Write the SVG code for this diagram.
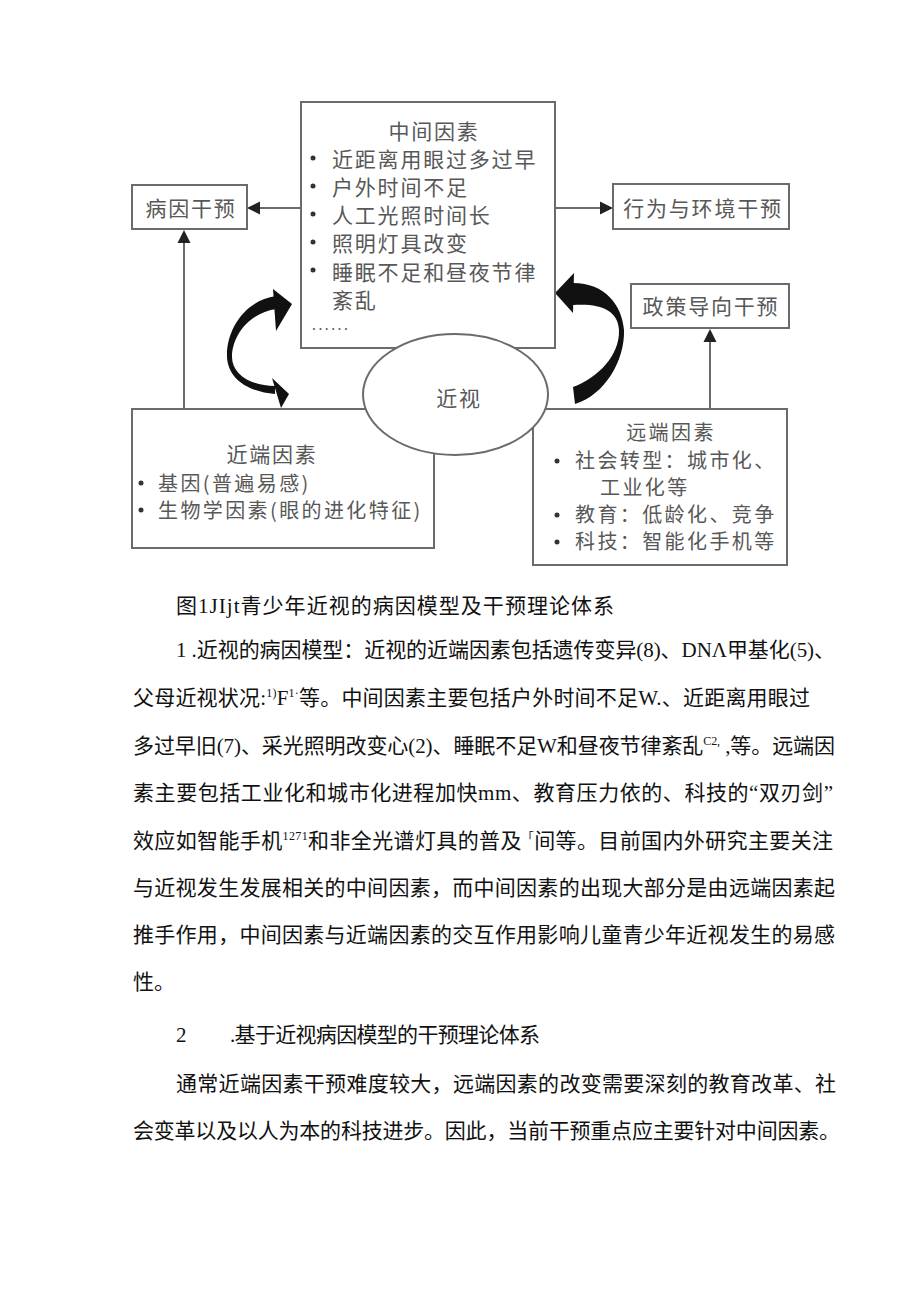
<svg xmlns="http://www.w3.org/2000/svg" width="920" height="1301" viewBox="0 0 920 1301">
<style>
.box{fill:#fff;stroke:#6b6b6b;stroke-width:2}
.dt{font-family:"Noto Sans CJK SC",sans-serif;font-size:21px;fill:#585858;letter-spacing:1.8px}
.st{font-size:20px;letter-spacing:2.4px}
.mid{text-anchor:middle}
.bul{fill:#333}
.ln{stroke:#6b6b6b;stroke-width:2;fill:none}
.ah{fill:#222}
.cv{fill:#111}
.bt{font-family:"Liberation Serif","Noto Sans CJK SC",serif;font-size:21px;fill:#111}
.sup{font-size:12px}
</style>
<rect width="920" height="1301" fill="#fff"/>

<g id="connectors">
  <line class="ln" x1="301" y1="208" x2="256" y2="208"/>
  <polygon class="ah" points="247,208 260,201.5 260,214.5"/>
  <line class="ln" x1="555" y1="208" x2="603" y2="208"/>
  <polygon class="ah" points="613,208 600,201.5 600,214.5"/>
  <line class="ln" x1="184" y1="409" x2="184" y2="240"/>
  <polygon class="ah" points="184,230 177.5,243 190.5,243"/>
  <line class="ln" x1="710" y1="409" x2="710" y2="338"/>
  <polygon class="ah" points="710,329 703.5,342 716.5,342"/>
  <g id="curve-left">
    <path class="cv" d="M276,296 C245,300 226,330 227,357 C228,380 250,392 275,394 L275,386 C252,386 232,375 232,357 C232,335 250,312 277,309 Z"/>
    <polygon class="cv" points="273,289 292,304 276,331"/>
    <polygon class="cv" points="272,378 289,394 281,408"/>
  </g>
  <g id="curve-right">
    <path class="cv" d="M573,283 C605,283 622,305 624,330 C625,360 605,395 575,404 L573,387 C598,378 620,355 619,330 C618,310 600,303 573,305 Z"/>
    <polygon class="cv" points="555,293 574,273 573,313"/>
  </g>
</g>

<g id="node-middle">
  <rect class="box" x="301" y="102" width="254" height="246"/>
  <text class="dt mid" x="434" y="139">中间因素</text>
  <circle class="bul" cx="313" cy="158" r="2.5"/>
  <text class="dt" x="332" y="167">近距离用眼过多过早</text>
  <circle class="bul" cx="313" cy="186" r="2.5"/>
  <text class="dt" x="332" y="195">户外时间不足</text>
  <circle class="bul" cx="313" cy="214" r="2.5"/>
  <text class="dt" x="332" y="223">人工光照时间长</text>
  <circle class="bul" cx="313" cy="242" r="2.5"/>
  <text class="dt" x="332" y="251">照明灯具改变</text>
  <circle class="bul" cx="313" cy="270" r="2.5"/>
  <text class="dt" x="332" y="280">睡眠不足和昼夜节律</text>
  <text class="dt" x="332" y="308">紊乱</text>
  <text class="dt" x="312" y="330" style="font-size:14px;letter-spacing:2.5px">......</text>
</g>

<g id="node-bingyin">
  <rect class="box" x="132" y="185" width="115" height="44"/>
  <text class="dt mid" x="191" y="216">病因干预</text>
</g>

<g id="node-xingwei">
  <rect class="box" x="613" y="184" width="176" height="45"/>
  <text class="dt mid" x="703" y="216">行为与环境干预</text>
</g>

<g id="node-zhengce">
  <rect class="box" x="631" y="284" width="158" height="44"/>
  <text class="dt mid" x="711" y="314">政策导向干预</text>
</g>

<g id="node-jinduan">
  <rect class="box" x="132" y="409" width="302" height="139"/>
  <text class="dt mid" x="272" y="462">近端因素</text>
  <circle class="bul" cx="141" cy="483" r="2.5"/>
  <text class="dt st" x="158" y="491">基因(普遍易感)</text>
  <circle class="bul" cx="141" cy="510" r="2.5"/>
  <text class="dt st" x="158" y="518">生物学因素(眼的进化特征)</text>
</g>

<g id="node-yuanduan">
  <rect class="box" x="533" y="409" width="254" height="156"/>
  <text class="dt st mid" x="671" y="440">远端因素</text>
  <circle class="bul" cx="557" cy="461" r="2.5"/>
  <text class="dt st" x="575" y="468">社会转型：城市化、</text>
  <text class="dt st" x="600" y="495">工业化等</text>
  <circle class="bul" cx="557" cy="515" r="2.5"/>
  <text class="dt st" x="575" y="522">教育：低龄化、竞争</text>
  <circle class="bul" cx="557" cy="542" r="2.5"/>
  <text class="dt st" x="575" y="549">科技：智能化手机等</text>
</g>

<g id="node-jinshi">
  <ellipse class="box" cx="455.5" cy="394.5" rx="92.5" ry="60.5"/>
  <text class="dt mid" x="459" y="406">近视</text>
</g>

<g id="body-text">
  <text class="bt" x="176" y="613" textLength="438" lengthAdjust="spacing">图1JIjt青少年近视的病因模型及干预理论体系</text>
  <text class="bt" x="176" y="657" textLength="659" lengthAdjust="spacing">1 .近视的病因模型：近视的近端因素包括遗传变异(8)、DNΛ甲基化(5)、</text>
  <text class="bt" x="133" y="705" textLength="677" lengthAdjust="spacing">父母近视状况:<tspan class="sup" dy="-8">1)</tspan><tspan dy="8">F</tspan><tspan class="sup" dy="-8">1·</tspan><tspan dy="8">等。中间因素主要包括户外时间不足W.、近距离用眼过</tspan></text>
  <text class="bt" x="133" y="753" textLength="702" lengthAdjust="spacing">多过早旧(7)、采光照明改变心(2)、睡眠不足W和昼夜节律紊乱<tspan class="sup" dy="-8">C2,</tspan><tspan dy="8"> ,等。远端因</tspan></text>
  <text class="bt" x="133" y="800" textLength="700" lengthAdjust="spacing">素主要包括工业化和城市化进程加快mm、教育压力依的、科技的“双刃剑”</text>
  <text class="bt" x="133" y="848" textLength="700" lengthAdjust="spacing">效应如智能手机<tspan class="sup" dy="-8">1271</tspan><tspan dy="8">和非全光谱灯具的普及</tspan><tspan class="sup" dy="-6">「</tspan><tspan dy="6">间等。目前国内外研究主要关注</tspan></text>
  <text class="bt" x="133" y="895" textLength="702" lengthAdjust="spacing">与近视发生发展相关的中间因素，而中间因素的出现大部分是由远端因素起</text>
  <text class="bt" x="133" y="942" textLength="702" lengthAdjust="spacing">推手作用，中间因素与近端因素的交互作用影响儿童青少年近视发生的易感</text>
  <text class="bt" x="133" y="989">性。</text>
  <text class="bt" x="176" y="1042">2</text>
  <text class="bt" x="230" y="1042" textLength="310" lengthAdjust="spacing">.基于近视病因模型的干预理论体系</text>
  <text class="bt" x="176" y="1091" textLength="660" lengthAdjust="spacing">通常近端因素干预难度较大，远端因素的改变需要深刻的教育改革、社</text>
  <text class="bt" x="133" y="1138" textLength="707" lengthAdjust="spacing">会变革以及以人为本的科技进步。因此，当前干预重点应主要针对中间因素。</text>
</g>
</svg>
